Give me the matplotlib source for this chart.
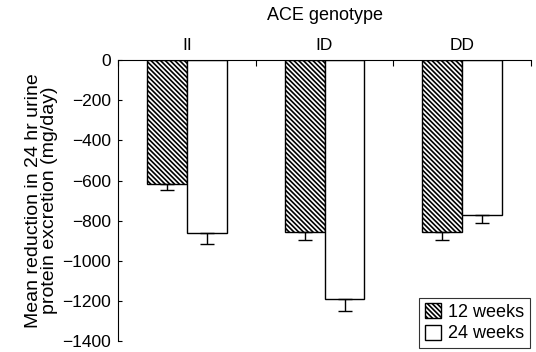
import matplotlib
matplotlib.use("Agg")
import matplotlib.pyplot as plt
import numpy as np

plt.rcParams['font.family'] = ['Liberation Sans', 'DejaVu Sans']
plt.rcParams['hatch.linewidth'] = 1.2

genotypes = ["II", "ID", "DD"]
wk12 = [-617, -858, -858]
wk12_err = [30, 40, 40]
wk24 = [-862, -1190, -772]
wk24_err = [53, 58, 40]
series_labels = ["12 weeks", "24 weeks"]
yticks = [0, -200, -400, -600, -800, -1000, -1200, -1400]

fig = plt.figure(figsize=(5.36, 3.52), dpi=100)
ax = fig.add_axes([0.220, 0.031, 0.771, 0.798])

x = np.arange(len(genotypes))
w = 0.29
hatch = '\\' * 7
b1 = ax.bar(x - w/2, wk12, w, color='white', edgecolor='black', hatch=hatch, linewidth=1.0,
            yerr=[wk12_err, [0]*3], capsize=5, error_kw=dict(elinewidth=1, capthick=1, ecolor='black'),
            label=series_labels[0])
b2 = ax.bar(x + w/2, wk24, w, color='white', edgecolor='black', linewidth=1.0,
            yerr=[wk24_err, [0]*3], capsize=5, error_kw=dict(elinewidth=1, capthick=1, ecolor='black'),
            label=series_labels[1])

ax.set_xlim(-0.5, 2.5)
ax.set_ylim(-1400, 0)
ax.set_yticks(yticks)
ax.set_yticklabels([str(v).replace('-', '\u2212') for v in yticks], fontsize=12.5)
ax.tick_params(axis='y', direction='in', length=3, width=0.8, pad=5)

ax.xaxis.tick_top()
ax.set_xticks(x)
ax.set_xticklabels(genotypes, fontsize=12.5)
ax.set_xticks([-0.5, 0.5, 1.5, 2.5], minor=True)
ax.tick_params(axis='x', which='major', length=0, pad=5)
ax.tick_params(axis='x', which='minor', direction='in', length=4, width=0.8, top=True, bottom=False)
ax.xaxis.set_label_position('top')
ax.set_xlabel("ACE genotype", fontsize=13, labelpad=13)

ax.spines['right'].set_visible(False)
ax.spines['bottom'].set_visible(False)
for s in ['left', 'top']:
    ax.spines[s].set_linewidth(0.8)

ax.set_ylabel("Mean reduction in 24 hr urine\nprotein excretion (mg/day)", fontsize=14, labelpad=3,
              linespacing=0.95)

leg = fig.legend(handles=[b1, b2], labels=series_labels, loc='lower right',
                 bbox_to_anchor=(0.988, 0.012), fontsize=13, frameon=True, fancybox=False,
                 edgecolor='black', handlelength=0.9, handleheight=0.9, handletextpad=0.4,
                 borderpad=0.3, labelspacing=0.2, borderaxespad=0)
leg.get_frame().set_linewidth(0.8)

fig.savefig("out.png", dpi=100)
